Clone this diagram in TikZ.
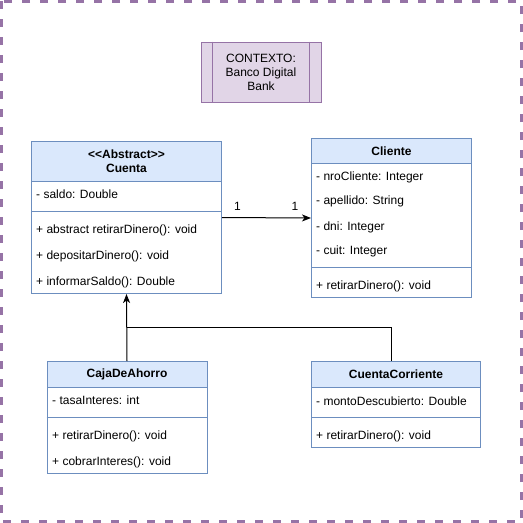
\documentclass[tikz,border=0pt]{standalone}
\usepackage{fontspec}
\setmainfont{Liberation Sans}
\usetikzlibrary{arrows.meta}
\definecolor{bf}{HTML}{DAE8FC}
\definecolor{bd}{HTML}{6C8EBF}
\definecolor{pf}{HTML}{E1D5E7}
\definecolor{pd}{HTML}{9673A6}

\begin{document}
\begin{tikzpicture}[
      x=1pt, y=-1pt,
      every node/.style={inner sep=0pt, font=\fontsize{12}{14}\selectfont},
      classbox/.style={draw=bd, line width=1pt, anchor=north west},
      classhead/.style={draw=bd, fill=bf, line width=1pt, anchor=north west,
                        align=center, font=\fontsize{12}{14}\selectfont\bfseries},
      member/.style={anchor=base west},
      arrow/.style={line width=1pt, -{Stealth[length=9pt, width=7pt, inset=2.5pt]}}]
        \useasboundingbox (0,0) rectangle (523,523);
        \draw[pd, line width=2.6pt, dash pattern=on 8pt off 10pt]
          (1.4,1.4) rectangle (521.6,521.6);

        % contexto
        \node[draw=pd, fill=pf, line width=1pt, minimum width=120pt, minimum height=60pt,
              align=center] (ctx) at (261,72) {CONTEXTO:\\Banco Digital\\Bank};
        \draw[pd, line width=1pt] ([xshift=12pt]ctx.north west) -- ([xshift=12pt]ctx.south west);
        \draw[pd, line width=1pt] ([xshift=-12pt]ctx.north east) -- ([xshift=-12pt]ctx.south east);

        % Cuenta
        \node[classbox, minimum width=190pt, minimum height=152pt] (cuenta) at (31,141) {};
        \node[classhead, minimum width=190pt, minimum height=40pt] (cuentah) at (31,141)
          {{<}{<}Abstract{>}{>}\\Cuenta};
        \draw[bd, line width=1pt] (31,211) -- (221,211);
        \node[member] (cuentaa1) at (36,198) {- saldo: Double};
        \foreach \y/\t [count=\i] in {233/+ abstract retirarDinero(): void,
                                      259/+ depositarDinero(): void,
                                      285/+ informarSaldo(): Double}
          \node[member] (cuentam\i) at (36,\y) {\t};

        % Cliente
        \node[classbox, minimum width=160pt, minimum height=159pt] (cliente) at (311,138) {};
        \node[classhead, minimum width=160pt, minimum height=25pt] (clienteh) at (311,138) {Cliente};
        \draw[bd, line width=1pt] (311,267) -- (471,267);
        \foreach \y/\t [count=\i] in {180/- nroCliente: Integer,
                                      204/- apellido: String,
                                      230/- dni: Integer,
                                      254/- cuit: Integer}
          \node[member] (clientea\i) at (316,\y) {\t};
        \node[member] (clientem1) at (316,289) {+ retirarDinero(): void};

        % CajaDeAhorro
        \node[classbox, minimum width=160pt, minimum height=112pt] (caja) at (46.5,361) {};
        \node[classhead, minimum width=160pt, minimum height=26pt] (cajah) at (46.5,361) {CajaDeAhorro};
        \draw[bd, line width=1pt] (46.5,417) -- (206.5,417);
        \node[member] (cajaa1) at (52,404) {- tasaInteres: int};
        \node[member] (cajam1) at (52,439) {+ retirarDinero(): void};
        \node[member] (cajam2) at (52,465) {+ cobrarInteres(): void};

        % CuentaCorriente
        \node[classbox, minimum width=169pt, minimum height=86pt] (corriente) at (311,361) {};
        \node[classhead, minimum width=169pt, minimum height=26pt] (corrienteh) at (311,361) {CuentaCorriente};
        \draw[bd, line width=1pt] (311,417) -- (480,417);
        \node[member] (corrientea1) at (316,405) {- montoDescubierto: Double};
        \node[member] (corrientem1) at (316,439) {+ retirarDinero(): void};

        % relaciones
        \draw[arrow] (cuenta.east) -- (cliente.west)
          node[pos=0.175, above=7pt] (m1) {1}
          node[pos=0.82, above=7pt] (m2) {1};
        \draw[arrow] (caja.north) -- (cuenta.south);
        \coordinate (joint) at (caja.north |- 0,327);
        \draw[line width=1pt] ([xshift=-4.5pt]corriente.north) |- (joint);

      \end{tikzpicture}
\end{document}
